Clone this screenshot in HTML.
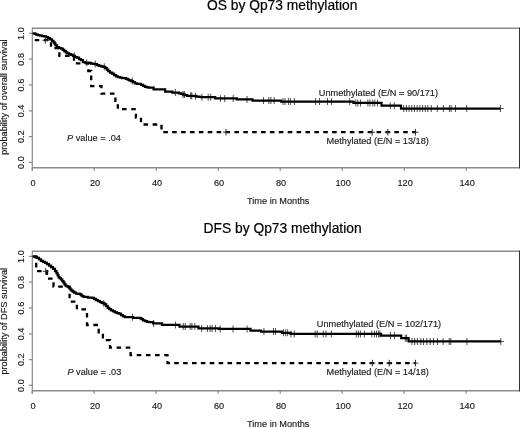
<!DOCTYPE html>
<html><head><meta charset="utf-8"><style>
html,body{margin:0;padding:0;background:#fff;}
body{width:520px;height:428px;overflow:hidden;}
svg{display:block;will-change:transform;}
.t9{font-family:"Liberation Sans",sans-serif;font-size:9.2px;fill:#1a1a1a;stroke:#1a1a1a;stroke-width:0.15px;}
.t13{font-family:"Liberation Sans",sans-serif;font-size:13.8px;fill:#000;stroke:#000;stroke-width:0.2px;}
</style></head><body>
<svg width="520" height="428" viewBox="0 0 520 428">
<rect width="520" height="428" fill="#fff"/>
<path d="M32.2,28.2H519.5M32.2,167.8H519.5" stroke="#8a8a8a" stroke-width="1.5" fill="none"/>
<path d="M32.3,27.5V170.8" stroke="#8a8a8a" stroke-width="1.2" fill="none"/>
<path d="M519.5,27.5V168.5" stroke="#333" stroke-width="1" fill="none"/>
<path d="M29,162.4H32.2M29,136.6H32.2M29,110.8H32.2M29,84.9H32.2M29,59.1H32.2M29,33.3H32.2M32.2,167.8V170.8M94.2,167.8V170.8M156.2,167.8V170.8M218.2,167.8V170.8M280.2,167.8V170.8M342.2,167.8V170.8M404.2,167.8V170.8M466.2,167.8V170.8" stroke="#8a8a8a" stroke-width="1.2" fill="none"/>
<text transform="translate(24,162.5) rotate(-90)" text-anchor="middle" class="t9">0.0</text>
<text transform="translate(24,136.7) rotate(-90)" text-anchor="middle" class="t9">0.2</text>
<text transform="translate(24,110.9) rotate(-90)" text-anchor="middle" class="t9">0.4</text>
<text transform="translate(24,85.1) rotate(-90)" text-anchor="middle" class="t9">0.6</text>
<text transform="translate(24,59.3) rotate(-90)" text-anchor="middle" class="t9">0.8</text>
<text transform="translate(24,33.5) rotate(-90)" text-anchor="middle" class="t9">1.0</text>
<text x="33.1" y="186" text-anchor="middle" class="t9">0</text>
<text x="95.1" y="186" text-anchor="middle" class="t9">20</text>
<text x="157.1" y="186" text-anchor="middle" class="t9">40</text>
<text x="219.1" y="186" text-anchor="middle" class="t9">60</text>
<text x="281.1" y="186" text-anchor="middle" class="t9">80</text>
<text x="343.1" y="186" text-anchor="middle" class="t9">100</text>
<text x="405.1" y="186" text-anchor="middle" class="t9">120</text>
<text x="467.1" y="186" text-anchor="middle" class="t9">140</text>
<text x="247" y="204.2" class="t9">Time in Months</text>
<path d="M32.2,251.2H519.5M32.2,390.8H519.5" stroke="#8a8a8a" stroke-width="1.5" fill="none"/>
<path d="M32.3,250.5V393.8" stroke="#8a8a8a" stroke-width="1.2" fill="none"/>
<path d="M519.5,250.5V391.5" stroke="#333" stroke-width="1" fill="none"/>
<path d="M29,385.4H32.2M29,359.6H32.2M29,333.8H32.2M29,307.9H32.2M29,282.1H32.2M29,256.3H32.2M32.2,390.8V393.8M94.2,390.8V393.8M156.2,390.8V393.8M218.2,390.8V393.8M280.2,390.8V393.8M342.2,390.8V393.8M404.2,390.8V393.8M466.2,390.8V393.8" stroke="#8a8a8a" stroke-width="1.2" fill="none"/>
<text transform="translate(24,385.5) rotate(-90)" text-anchor="middle" class="t9">0.0</text>
<text transform="translate(24,359.7) rotate(-90)" text-anchor="middle" class="t9">0.2</text>
<text transform="translate(24,333.9) rotate(-90)" text-anchor="middle" class="t9">0.4</text>
<text transform="translate(24,308.1) rotate(-90)" text-anchor="middle" class="t9">0.6</text>
<text transform="translate(24,282.3) rotate(-90)" text-anchor="middle" class="t9">0.8</text>
<text transform="translate(24,256.5) rotate(-90)" text-anchor="middle" class="t9">1.0</text>
<text x="33.1" y="409" text-anchor="middle" class="t9">0</text>
<text x="95.1" y="409" text-anchor="middle" class="t9">20</text>
<text x="157.1" y="409" text-anchor="middle" class="t9">40</text>
<text x="219.1" y="409" text-anchor="middle" class="t9">60</text>
<text x="281.1" y="409" text-anchor="middle" class="t9">80</text>
<text x="343.1" y="409" text-anchor="middle" class="t9">100</text>
<text x="405.1" y="409" text-anchor="middle" class="t9">120</text>
<text x="467.1" y="409" text-anchor="middle" class="t9">140</text>
<text x="247" y="427.2" class="t9">Time in Months</text>
<path d="M74.30,52.30V59.30M86.70,59.20V66.20M95.20,60.60V67.60M104.30,63.30V70.30M132.30,77.60V84.60M175.30,89.10V96.10M183.00,91.00V98.00M184.40,91.00V98.00M190.70,92.30V99.30M191.80,92.30V99.30M195.60,92.80V99.80M201.90,93.70V100.70M208.20,93.70V100.70M210.70,93.70V100.70M220.40,94.90V101.90M224.70,94.90V101.90M233.20,94.90V101.90M247.00,95.90V102.90M263.50,97.00V104.00M268.80,97.00V104.00M270.90,97.00V104.00M274.20,97.00V104.00M283.00,98.10V105.10M285.00,98.10V105.10M288.40,98.10V105.10M290.40,98.10V105.10M294.40,98.10V105.10M315.60,98.10V105.10M319.50,98.10V105.10M327.50,98.10V105.10M331.50,98.10V105.10M349.70,98.10V105.10M355.80,99.40V106.40M357.80,99.40V106.40M360.50,99.40V106.40M367.90,99.40V106.40M370.00,99.40V106.40M372.80,99.40V106.40M374.80,99.40V106.40M377.50,99.40V106.40M390.30,102.20V109.20M394.30,102.20V109.20M403.70,105.00V112.00M406.40,105.00V112.00M409.10,105.00V112.00M411.80,105.00V112.00M414.50,105.00V112.00M417.20,105.00V112.00M419.90,105.00V112.00M422.60,105.00V112.00M425.30,105.00V112.00M427.80,105.00V112.00M431.20,105.00V112.00M437.30,105.00V112.00M443.40,105.00V112.00M449.40,105.00V112.00M451.10,105.00V112.00M455.50,105.00V112.00M466.70,105.00V112.00M500.50,105.00V112.00M500.50,108.50H503.80" stroke="#555" stroke-width="1.05" fill="none"/>
<path d="M32.50,33.30H34.00H34.75V33.80H35.50H36.25V34.50H37.00H38.00V35.20H39.00H40.00V35.60H41.00H42.00V36.10H43.00H44.00V36.30H45.00H46.00V37.00H47.00H48.00V38.20H49.00H50.00V39.30H51.00H52.00V40.90H53.00H53.50V42.00H54.00H54.50V43.50H55.00H55.50V45.30H56.00H57.00V47.10H58.00H59.00V48.00H60.00H61.00V48.70H62.00H62.75V49.80H63.50H64.25V51.20H65.00H65.75V52.40H66.50H67.25V53.30H68.00H69.00V54.20H70.00H71.00V54.90H72.00H73.00V55.80H74.00H75.00V57.00H76.00H77.00V57.50H78.00H79.00V59.00H80.00H81.00V60.20H82.00H83.00V62.00H84.00H85.00V62.70H86.00H88.00H89.00V62.90H90.00H91.00V63.60H92.00H93.00V63.80H94.00H95.00V64.10H96.00H97.00V65.00H98.00H99.00V65.90H100.00H101.00V66.40H102.00H103.00V66.80H104.00H105.00V67.80H106.00H106.75V69.50H107.50H108.25V71.10H109.00H110.00V72.50H111.00H112.00V73.60H113.00H114.00V75.20H115.00H116.00V76.40H117.00H118.00V77.10H119.00H120.00V77.50H121.00H122.00V78.00H123.00H124.00V78.20H125.00H126.00V78.80H127.00H127.75V79.50H128.50H129.25V80.40H130.00H131.00V81.10H132.00H133.00V82.20H134.00H135.00V83.40H136.00H137.00V83.80H138.00H140.00H141.00V84.80H142.00H143.00V85.90H144.00H145.00V86.80H146.00H147.00V87.30H148.00H149.00V87.50H150.00H151.80V87.60H153.60V89.30H165.20V91.50H172.30V92.50H175.15V92.60H178.00H179.00V93.30H180.00H181.00V93.80H182.00H183.00V94.50H184.00H185.00V95.20H186.00H187.00V95.80H188.00H195.00H195.50V96.30H196.00H197.00V96.60H198.00H199.00V96.90H200.00H201.00V97.20H202.00H215.20V98.40H236.80V99.40H252.50V100.50H281.00V101.60H353.50V102.90H381.50V105.70H401.00V108.50H500.50" stroke="#000" stroke-width="2.25" fill="none"/>
<path d="M34.67,40.20L39.27,40.20M43.86,40.20L48.46,40.20M51.00,42.26L51.00,46.86M54.35,48.10L58.95,48.10M59.40,52.25L59.40,55.80L60.45,55.80M65.05,55.80L69.65,55.80M74.00,56.04L74.00,60.64M75.84,63.40L80.44,63.40M85.03,63.40L88.30,63.40L88.30,64.73M88.30,69.32L88.30,71.00L91.20,71.00L91.20,71.02M91.20,75.62L91.20,80.22M91.20,84.81L91.20,86.20L94.41,86.20M99.01,86.20L101.50,86.20L101.50,88.31M101.50,92.90L101.50,93.70L105.30,93.70M109.90,93.70L114.50,93.70M115.40,97.39L115.40,101.99M117.80,104.19L117.80,108.79M121.98,109.20L126.58,109.20M131.18,109.20L135.78,109.20M135.90,113.67L135.90,117.50L136.67,117.50M141.00,117.77L141.00,122.37M143.46,124.50L148.06,124.50M152.66,124.50L157.26,124.50M161.50,124.85L161.50,129.45M163.30,132.20H167.90M172.19,132.20H176.78M181.07,132.20H185.67M189.95,132.20H194.55M198.84,132.20H203.44M207.72,132.20H212.32M216.61,132.20H221.21M225.49,132.20H230.09M234.38,132.20H238.98M243.26,132.20H247.86M252.15,132.20H256.75M261.03,132.20H265.63M269.92,132.20H274.52M278.80,132.20H283.40M287.69,132.20H292.29M296.57,132.20H301.17M305.46,132.20H310.06M314.34,132.20H318.94M323.23,132.20H327.83M332.11,132.20H336.71M341.00,132.20H345.60M349.88,132.20H354.48M358.77,132.20H363.37M367.65,132.20H372.25M376.54,132.20H381.14M385.42,132.20H390.02M394.31,132.20H398.91M403.19,132.20H407.79M412.08,132.20H415.50" stroke="#000" stroke-width="2.3" fill="none"/>
<path d="M42.40,40.30H48.20M45.30,37.00V43.60M223.10,132.20H228.90M226.00,128.90V135.50M369.30,132.20H375.10M372.20,128.90V135.50M384.90,132.20H390.70M387.80,128.90V135.50M412.60,132.20H418.40M415.50,128.90V135.50" stroke="#2a2a2a" stroke-width="0.95" fill="none"/>
<path d="M103.80,299.90V306.90M132.50,313.70V320.70M153.50,319.90V326.90M175.50,321.40V328.40M183.30,323.00V330.00M185.20,323.00V330.00M190.20,323.00V330.00M191.90,323.00V330.00M194.80,323.00V330.00M201.70,324.90V331.90M207.40,324.90V331.90M210.10,324.90V331.90M212.10,324.90V331.90M215.50,324.90V331.90M220.20,325.40V332.40M233.00,325.40V332.40M247.10,325.40V332.40M263.90,328.00V335.00M273.50,328.00V335.00M275.50,328.00V335.00M283.50,329.30V336.30M285.60,329.30V336.30M287.60,329.30V336.30M291.00,330.40V337.40M294.30,330.40V337.40M315.20,330.40V337.40M317.20,330.40V337.40M323.30,330.40V337.40M326.00,330.40V337.40M331.40,330.40V337.40M356.30,330.40V337.40M358.40,330.40V337.40M360.40,330.40V337.40M364.40,330.40V337.40M371.80,330.40V337.40M374.50,330.40V337.40M376.50,330.40V337.40M378.40,330.40V337.40M379.90,330.40V337.40M390.50,332.00V339.00M394.50,332.00V339.00M405.30,334.70V341.70M406.60,334.70V341.70M412.00,337.90V344.90M414.70,337.90V344.90M417.40,337.90V344.90M420.80,337.90V344.90M423.50,337.90V344.90M426.80,337.90V344.90M430.20,337.90V344.90M433.50,337.90V344.90M437.50,337.90V344.90M443.10,337.90V344.90M449.20,337.90V344.90M450.80,337.90V344.90M466.90,337.90V344.90M500.80,337.90V344.90M500.80,341.40H504.10" stroke="#555" stroke-width="1.05" fill="none"/>
<path d="M32.50,256.50H34.00H35.00V257.00H36.00H37.00V257.90H38.00H39.00V259.30H40.00H41.00V260.90H42.00H43.00V261.80H44.00H45.00V262.80H46.00H47.00V264.20H48.00H49.00V265.70H50.00H51.00V267.00H52.00H53.00V268.80H54.00H55.00V271.00H56.00H56.50V273.00H57.00H57.50V275.20H58.00H58.50V277.20H59.00H59.50V278.10H60.00H60.75V279.40H61.50H62.25V281.10H63.00H63.50V282.70H64.00H64.50V284.40H65.00H65.50V285.70H66.00H66.75V286.30H67.50H68.25V287.00H69.00H69.50V288.30H70.00H70.50V289.60H71.00H71.50V290.60H72.00H72.75V291.50H73.50H74.25V292.50H75.00H76.00V293.50H77.00H78.50V293.80H80.00H80.50V294.70H81.00H81.50V295.60H82.00H82.50V296.30H83.00H84.00V296.80H85.00H87.00H88.00V297.50H89.00H90.00V297.70H91.00H92.00V297.90H93.00H94.00V298.80H95.00H96.00V300.20H97.00H98.00V301.20H99.00H100.00V302.10H101.00H101.75V302.90H102.50H103.25V303.40H104.00H104.75V304.40H105.50H106.25V306.20H107.00H107.75V307.80H108.50H109.25V309.10H110.00H111.00V310.30H112.00H113.00V311.40H114.00H115.00V312.40H116.00H117.00V313.20H118.00H119.00V313.70H120.00H121.00V315.00H122.00H123.00V316.30H124.00H125.00V317.20H126.00H132.00H133.00V317.80H134.00H140.00H140.50V318.30H141.00H141.50V319.20H142.00H143.00V320.40H144.00H145.00V321.10H146.00H147.00V321.80H148.00H149.00V322.00H150.00H153.20V323.40H162.00V324.90H179.50V326.50H198.50V328.40H219.00V328.90H250.50V330.50H261.00V331.50H282.00V332.80H290.50V333.90H381.00V335.50H401.20V338.20H408.60V341.40H500.80" stroke="#000" stroke-width="2.25" fill="none"/>
<path d="M33.35,256.50L36.20,256.50L36.20,258.25M36.20,262.83L36.20,267.43M37.01,271.20L41.61,271.20M46.19,271.20L47.00,271.20L47.00,274.99M47.97,278.60L52.57,278.60M53.50,282.25L53.50,286.70L53.65,286.70M58.23,286.70L62.83,286.70M67.41,286.70L69.60,286.70L69.60,289.11M69.60,293.69L69.60,298.29M70.77,301.70L75.37,301.70M76.90,304.75L76.90,309.35M81.43,309.40L86.03,309.40M87.00,313.01L87.00,317.61M87.00,322.19L87.00,325.00L88.79,325.00M93.37,325.00L97.97,325.00M98.70,328.85L98.70,333.45M102.90,333.83L102.90,338.43M105.71,340.20L110.00,340.20L110.00,340.51M110.00,345.09L110.00,347.70L111.99,347.70M116.57,347.70L121.17,347.70M125.75,347.70L130.35,347.70M130.60,352.03L130.60,355.10L132.13,355.10M136.71,355.10L141.31,355.10M145.89,355.10L150.49,355.10M155.07,355.10L159.67,355.10M164.25,355.10L167.50,355.10L167.50,356.45M167.50,361.03L167.50,363.10L170.03,363.10M174.20,363.10H178.80M183.08,363.10H187.68M191.96,363.10H196.56M200.84,363.10H205.44M209.72,363.10H214.32M218.60,363.10H223.20M227.49,363.10H232.09M236.37,363.10H240.97M245.25,363.10H249.85M254.13,363.10H258.73M263.01,363.10H267.61M271.89,363.10H276.49M280.77,363.10H285.37M289.65,363.10H294.25M298.53,363.10H303.13M307.41,363.10H312.01M316.30,363.10H320.90M325.18,363.10H329.78M334.06,363.10H338.66M342.94,363.10H347.54M351.82,363.10H356.42M360.70,363.10H365.30M369.58,363.10H374.18M378.46,363.10H383.06M387.34,363.10H391.94M396.22,363.10H400.82M405.11,363.10H409.71M413.99,363.10H415.50" stroke="#000" stroke-width="2.3" fill="none"/>
<path d="M42.80,271.30H48.60M45.70,268.00V274.60M369.50,363.10H375.30M372.40,359.80V366.40M386.40,363.10H392.20M389.30,359.80V366.40M412.60,363.10H418.40M415.50,359.80V366.40" stroke="#2a2a2a" stroke-width="0.95" fill="none"/>
<text x="207" y="9.8" class="t13">OS by Qp73 methylation</text>
<text x="203.6" y="233.4" class="t13">DFS by Qp73 methylation</text>
<text transform="translate(7,97.1) rotate(-90)" text-anchor="middle" class="t9">probability of overall survival</text>
<text transform="translate(7,321.2) rotate(-90)" text-anchor="middle" class="t9">probability of DFS survival</text>
<text x="318.8" y="96.2" class="t9">Unmethylated (E/N = 90/171)</text>
<text x="326.5" y="143.8" class="t9">Methylated (E/N = 13/18)</text>
<text x="316.8" y="327.2" class="t9">Unmethylated (E/N = 102/171)</text>
<text x="326.5" y="374.8" class="t9">Methylated (E/N = 14/18)</text>
<text x="67" y="141.3" class="t9"><tspan font-style="italic">P</tspan> value = .04</text>
<text x="67.4" y="374.8" class="t9"><tspan font-style="italic">P</tspan> value = .03</text>
</svg>
</body></html>
